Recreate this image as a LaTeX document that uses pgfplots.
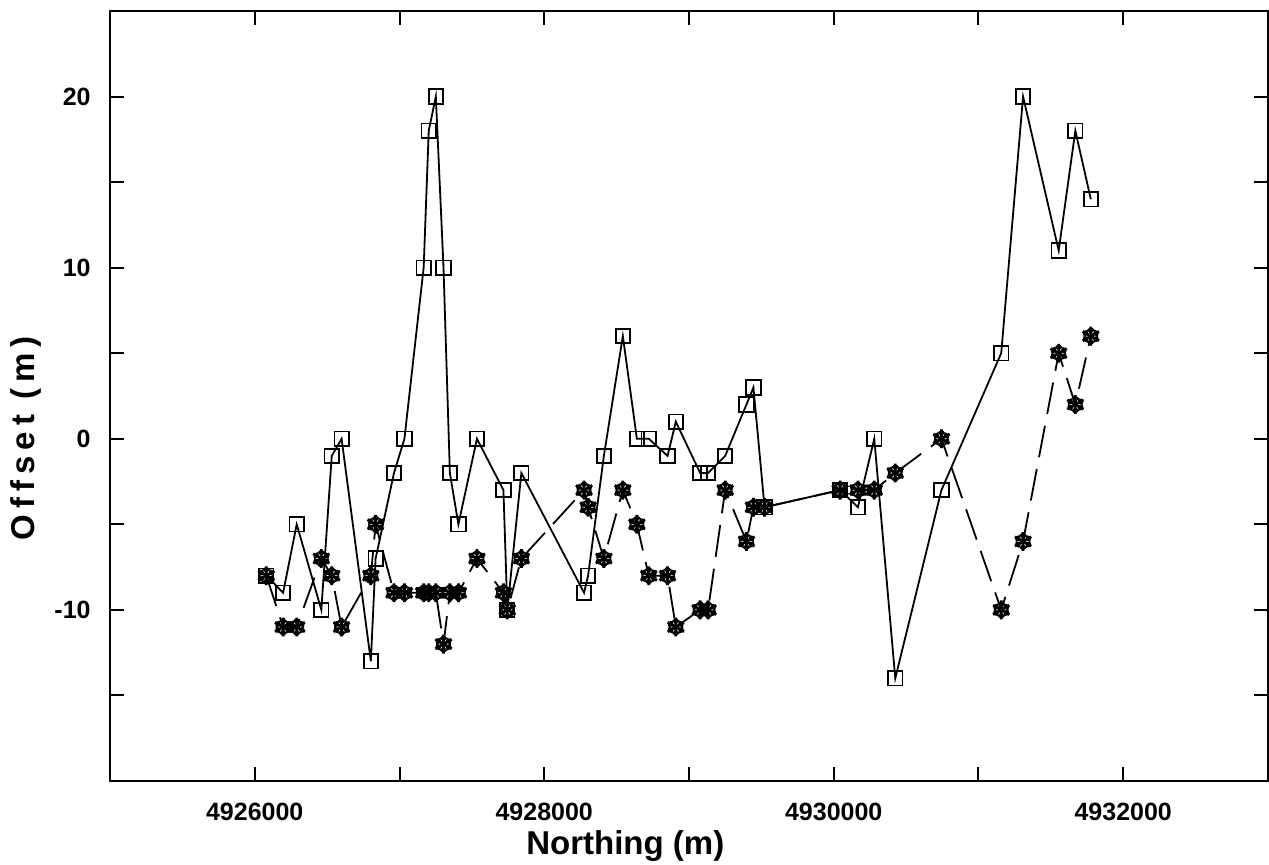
\documentclass[border=0pt]{standalone}
\usepackage{fontspec}
\setmainfont{Liberation Sans}
\usepackage{pgfplots}
\usepackage{pgfplotstable}
\pgfplotsset{compat=1.18}

\pgfdeclareplotmark{snowflake}{%
  \foreach \a in {30,90,150,210,270,330}{%
    \pgfmathsetmacro\sfl{\a+45}%
    \pgfmathsetmacro\sfr{\a-45}%
    \pgfpathmoveto{\pgfpointorigin}%
    \pgfpathlineto{\pgfpointpolar{\a}{\pgfplotmarksize}}%
    \pgfpathmoveto{\pgfpointadd{\pgfpointpolar{\a}{0.45\pgfplotmarksize}}{\pgfpointpolar{\sfl}{0.42\pgfplotmarksize}}}%
    \pgfpathlineto{\pgfpointpolar{\a}{0.45\pgfplotmarksize}}%
    \pgfpathlineto{\pgfpointadd{\pgfpointpolar{\a}{0.45\pgfplotmarksize}}{\pgfpointpolar{\sfr}{0.42\pgfplotmarksize}}}%
    \pgfusepathqstroke
  }%
}

\pgfplotstableread{
N sq sf
4926080 -8 -8
4926196 -9 -11
4926290 -5 -11
4926460 -10 -7
4926532 -1 -8
4926600 0 -11
4926802 -13 -8
4926835 -7 -5
4926962 -2 -9
4927034 0 -9
4927167 10 -9
4927202 18 -9
4927251 20 -9
4927304 10 -12
4927348 -2 -9
4927407 -5 -9
4927535 0 -7
4927718 -3 -9
4927745 -10 -10
4927842 -2 -7
4928275 -9 -3
4928303 -8 -4
4928412 -1 -7
4928543 6 -3
4928640 0 -5
4928722 0 -8
4928852 -1 -8
4928909 1 -11
4929077 -2 -10
4929132 -2 -10
4929250 -1 -3
4929397 2 -6
4929445 3 -4
4929522 -4 -4
4930044 -3 -3
4930167 -4 -3
4930280 0 -3
4930425 -14 -2
4930744 -3 0
4931157 5 -10
4931308 20 -6
4931554 11 5
4931669 18 2
4931776 14 6
}\data

\begin{document}
\begin{tikzpicture}
\path[use as bounding box] (0,0) rectangle (634.5pt,432.5pt);
\begin{axis}[
  at={(55pt,42pt)}, anchor=south west,
  scale only axis, width=579pt, height=385pt,
  xmin=4925000, xmax=4933000, ymin=-20, ymax=25,
  scaled x ticks=false, scaled y ticks=false,
  axis line style={line width=1.2pt},
  tick align=inside, tick pos=both,
  major tick length=7pt,
  tick style={line width=1pt, black},
  xtick={4926000,4927000,4928000,4929000,4930000,4931000,4932000},
  xticklabels={4926000,,4928000,,4930000,,4932000},
  ytick={-15,-10,-5,0,5,10,15,20},
  yticklabels={,-10,,0,,10,,20},
  ticklabel style={font=\bfseries\fontsize{12.5}{14}\selectfont},
  xticklabel style={anchor=north, inner sep=0pt, yshift=-11pt},
  yticklabel style={anchor=east, inner sep=0pt, xshift=-9.5pt},
  xlabel={Northing (m)}, ylabel={Offset (m)},
  xlabel style={font=\bfseries\fontsize{16.5}{18}\selectfont, inner sep=0pt,
    at={(axis description cs:0.445,-0.0636)}, anchor=north},
  ylabel style={font=\bfseries\fontsize{16.5}{18}\selectfont\addfontfeatures{LetterSpace=18},
    inner sep=0pt, at={(axis description cs:-0.0864,0.445)}, anchor=north},
  clip=false,
]
\addplot[black, line width=0.9pt, mark=square, mark size=3.6pt,
  mark options={solid, line width=0.9pt}] table[x=N, y=sq] {\data};
\addplot[black, line width=0.9pt, dash pattern=on 16pt off 6pt,
  mark=snowflake, mark size=4.7pt,
  mark options={solid, line width=1.4pt}] table[x=N, y=sf] {\data};
\end{axis}
\end{tikzpicture}
\end{document}
